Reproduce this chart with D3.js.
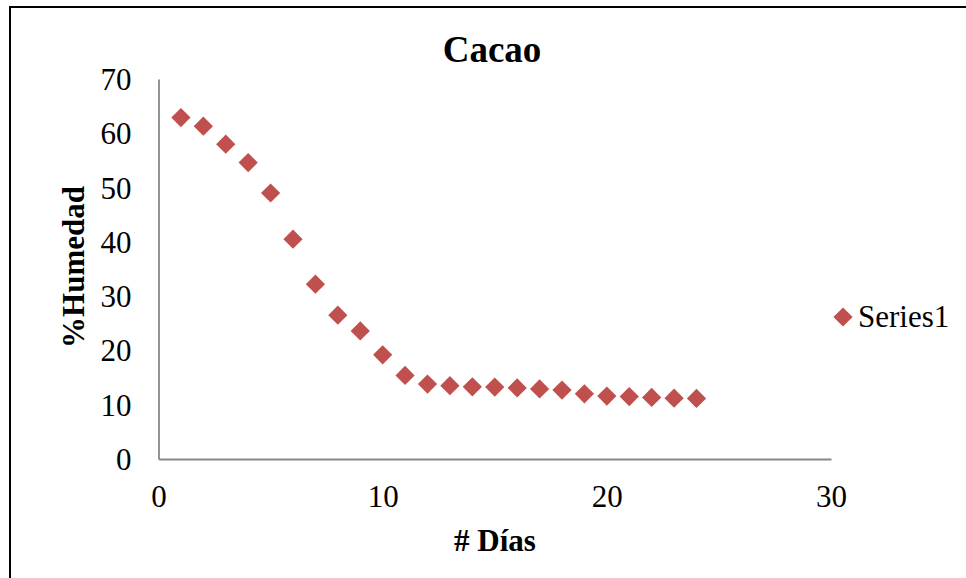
<!DOCTYPE html>
<html>
<head>
<meta charset="utf-8">
<script src="https://cdn.jsdelivr.net/npm/d3@7"></script>
<style>
  html, body { margin: 0; padding: 0; background: #fff; }
  svg { display: block; }
  text { font-family: "Liberation Serif", "Times New Roman", serif; fill: #000; }
</style>
</head>
<body>
<svg id="chart" width="966" height="578"></svg>
<script>
const chartTitle = "Cacao";
const xTitle = "# Días";
const yTitle = "%Humedad";
const seriesName = "Series1";
const days = [1,2,3,4,5,6,7,8,9,10,11,12,13,14,15,16,17,18,19,20,21,22,23,24];
const humidity = [62.9,61.3,58.0,54.6,49.0,40.5,32.2,26.5,23.6,19.2,15.4,13.8,13.5,13.3,13.25,13.1,12.9,12.7,12.0,11.6,11.5,11.35,11.2,11.15];
const xTicks = [0,10,20,30];
const yTicks = [0,10,20,30,40,50,60,70];

const svg = d3.select("#chart");
const color = "#C0504D";
const serif = '"Liberation Serif", "Times New Roman", serif';

// frame
svg.append("rect").attr("x", 10).attr("y", 7).attr("width", 1000).attr("height", 1000)
  .attr("fill", "none").attr("stroke", "#000").attr("stroke-width", 2);

const x = d3.scaleLinear().domain([0, 30]).range([158.5, 831]);
const y = d3.scaleLinear().domain([0, 70]).range([459, 79]);

// axes
const yAxis = d3.axisLeft(y).tickValues(yTicks).tickSize(0).tickPadding(27);
const xAxis = d3.axisBottom(x).tickValues(xTicks).tickSize(0).tickPadding(26);

const gy = svg.append("g").attr("transform", `translate(${x(0)},0)`).call(yAxis);
const gx = svg.append("g").attr("transform", `translate(0,${y(0)})`).call(xAxis);
[gx, gy].forEach(g => {
  g.attr("font-family", serif).attr("font-size", 31);
  g.select(".domain").attr("stroke", "#888").attr("stroke-width", 1.8);
  g.selectAll("text").style("font-family", serif).style("font-size", "31px").attr("fill", "#000");
});
gy.selectAll("text").attr("dy", "0.34em");
gx.selectAll("text").attr("dy", "0.72em");

// points
const sym = d3.symbol().type(d3.symbolSquare).size(185);
svg.append("g").selectAll("path").data(days).join("path")
  .attr("d", sym)
  .attr("fill", color)
  .attr("transform", (d, i) => `translate(${x(d)},${y(humidity[i])}) rotate(45)`);

// title
svg.append("text").attr("x", 492).attr("y", 62).attr("text-anchor", "middle")
  .style("font-size", "37px").style("font-weight", "bold").text(chartTitle);

// axis titles
svg.append("text").attr("x", 495).attr("y", 551).attr("text-anchor", "middle")
  .style("font-size", "31px").style("font-weight", "bold").text(xTitle);
svg.append("text").attr("transform", "translate(84,267) rotate(-90)").attr("text-anchor", "middle")
  .style("font-size", "31px").style("font-weight", "bold").text(yTitle);

// legend
svg.append("path").attr("d", sym).attr("fill", color)
  .attr("transform", "translate(843,317) rotate(45)");
svg.append("text").attr("x", 858).attr("y", 327).style("font-size", "31px").text(seriesName);
</script>
</body>
</html>
